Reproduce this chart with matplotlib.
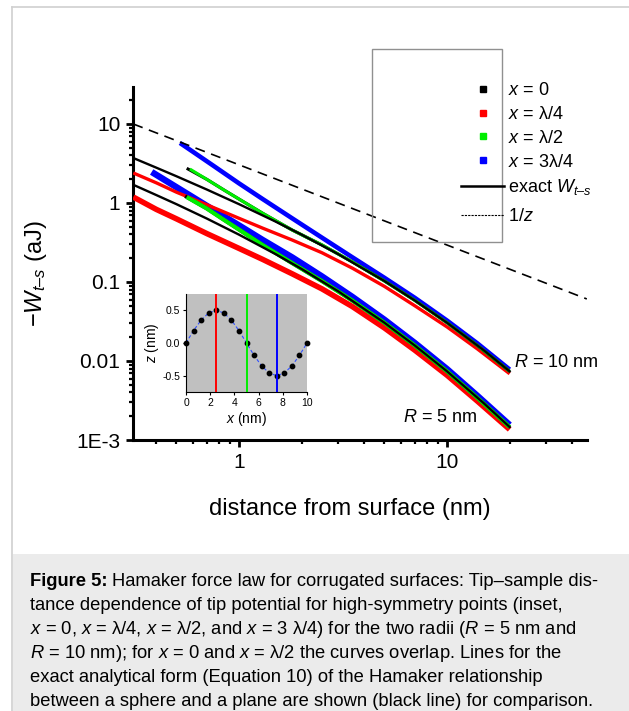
import matplotlib
matplotlib.use('Agg')
import matplotlib.pyplot as plt
from matplotlib.lines import Line2D
from matplotlib.patches import Rectangle
from matplotlib.ticker import LogLocator, NullFormatter

plt.rcParams['font.family'] = 'Liberation Sans'
plt.rcParams['mathtext.fontset'] = 'custom'
plt.rcParams['mathtext.rm'] = 'Liberation Sans'
plt.rcParams['mathtext.it'] = 'Liberation Sans:italic'
plt.rcParams['mathtext.bf'] = 'Liberation Sans:bold'

# --- data (z in nm, -W in aJ) ---
# exact sphere-plane Hamaker curves
z_exact = [0.31, 0.4, 0.5, 0.7, 1.0, 1.5, 2.0, 3.0, 5.0, 7.0, 10.0, 15.0, 20.0]
w_exact_r10 = [3.71, 2.80, 2.18, 1.48, 0.966, 0.581, 0.397, 0.225, 0.103, 0.0584, 0.0305, 0.0137, 0.0074]
w_exact_r5 = [1.70, 1.26, 0.966, 0.635, 0.397, 0.225, 0.146, 0.0761, 0.0305, 0.0157, 0.0074, 0.00293, 0.00146]

# 1/z guide line
z_inv = [0.31, 47.0]
w_inv = [10.0, 0.061]

# R = 10 nm
z_r10_x0 = [0.56, 0.7, 0.85, 1.0, 1.3, 1.8, 2.5, 3.5, 5, 7, 10, 14, 20]
w_r10_x0 = [2.75, 1.99, 1.45, 1.12, 0.74, 0.455, 0.295, 0.18, 0.103, 0.0585, 0.0305, 0.0157, 0.0074]
z_r10_q1 = [0.31, 0.4, 0.5, 0.7, 1.0, 1.3, 1.8, 2.5, 3.5, 5, 7, 10, 14, 20]
w_r10_q1 = [2.4, 1.8, 1.37, 0.95, 0.64, 0.48, 0.34, 0.235, 0.15, 0.088, 0.05, 0.027, 0.0142, 0.0069]
z_r10_q2 = [0.58, 0.7, 0.85, 1.0, 1.3, 1.8, 2.5, 3.5, 5, 7, 10, 14, 20]
w_r10_q2 = [2.69, 1.99, 1.45, 1.12, 0.74, 0.455, 0.295, 0.18, 0.103, 0.0585, 0.0305, 0.0157, 0.0074]
z_r10_q3 = [0.52, 0.6, 0.75, 1.0, 1.3, 1.8, 2.5, 3.5, 5, 7, 10, 14, 20]
w_r10_q3 = [5.75, 4.45, 2.98, 1.77, 1.12, 0.64, 0.365, 0.206, 0.113, 0.063, 0.0325, 0.0167, 0.0078]

# R = 5 nm
z_r5_x0 = [0.55, 0.7, 0.85, 1.0, 1.3, 1.8, 2.5, 3.5, 5, 7, 10, 14, 20]
w_r5_x0 = [1.22, 0.85, 0.607, 0.46, 0.293, 0.1735, 0.103, 0.0584, 0.0305, 0.0157, 0.0074, 0.00341, 0.00146]
z_r5_q1 = [0.31, 0.4, 0.5, 0.7, 1.0, 1.3, 1.8, 2.5, 3.5, 5, 7, 10, 14, 20]
w_r5_q1 = [1.19, 0.83, 0.63, 0.41, 0.266, 0.193, 0.127, 0.082, 0.049, 0.0262, 0.0137, 0.0066, 0.0031, 0.00136]
z_r5_q2 = [0.56, 0.7, 0.85, 1.0, 1.3, 1.8, 2.5, 3.5, 5, 7, 10, 14, 20]
w_r5_q2 = [1.19, 0.85, 0.607, 0.46, 0.293, 0.1735, 0.103, 0.0584, 0.0305, 0.0157, 0.0074, 0.00341, 0.00146]
z_r5_q3 = [0.38, 0.45, 0.55, 0.7, 1.0, 1.3, 1.8, 2.5, 3.5, 5, 7, 10, 14, 20]
w_r5_q3 = [2.47, 1.88, 1.36, 0.92, 0.52, 0.34, 0.205, 0.118, 0.065, 0.0333, 0.0169, 0.0079, 0.00362, 0.00155]

# inset: surface profile
inset_x = [0, 0.625, 1.25, 1.875, 2.5, 3.125, 3.75, 4.375, 5, 5.625, 6.25, 6.875, 7.5, 8.125, 8.75, 9.375, 10]
inset_z = [0, 0.19, 0.35, 0.46, 0.5, 0.46, 0.35, 0.19, 0, -0.19, -0.35, -0.46, -0.5, -0.46, -0.35, -0.19, 0]
inset_marks = [2.5, 5.0, 7.5]
inset_mark_colors = ['#ff0000', '#00ee00', '#0000ff']

ytick_vals = [1e-3, 1e-2, 1e-1, 1, 10]
ytick_labels = ['1E-3', '0.01', '0.1', '1', '10']

RED, GREEN, BLUE = '#ff0000', '#00ee00', '#0000ff'

fig = plt.figure(figsize=(6.29, 7.11), dpi=100)

# page frame and caption box
fig.add_artist(Line2D([12/629, 12/629], [0, 1 - 7/711], color='#d0d0d0', lw=1.2))
fig.add_artist(Line2D([12/629, 1], [1 - 7/711, 1 - 7/711], color='#d0d0d0', lw=1.2))
fig.add_artist(Rectangle((13/629, 0), 1 - 13/629, 1 - 554/711, transform=fig.transFigure,
                         facecolor='#ebebeb', edgecolor='none'))

ax = fig.add_axes([133/629, 1 - 440/711, 454/629, 353/711])
ax.set_xscale('log')
ax.set_yscale('log')

ax.plot(z_r10_q3, w_r10_q3, color=BLUE, lw=3.3, solid_capstyle='butt', zorder=2)
ax.plot(z_r5_q3, w_r5_q3, color=BLUE, lw=4.6, solid_capstyle='butt', zorder=2)
ax.plot(z_r10_q1, w_r10_q1, color=RED, lw=2.4, solid_capstyle='butt', zorder=3)
ax.plot(z_r5_q1, w_r5_q1, color=RED, lw=4.0, solid_capstyle='butt', zorder=3)
ax.plot(z_r10_x0, w_r10_x0, color='black', lw=2.2, solid_capstyle='butt', zorder=3.5)
ax.plot(z_r5_x0, w_r5_x0, color='black', lw=2.6, solid_capstyle='butt', zorder=3.5)
ax.plot(z_r10_q2, w_r10_q2, color=GREEN, lw=2.2, solid_capstyle='butt', zorder=4)
ax.plot(z_r5_q2, w_r5_q2, color=GREEN, lw=3.0, solid_capstyle='butt', zorder=4)
ax.plot(z_exact, w_exact_r10, color='black', lw=1.7, zorder=5)
ax.plot(z_exact, w_exact_r5, color='black', lw=1.7, zorder=5)
ax.plot(z_inv, w_inv, color='black', lw=1.2, ls=(0, (6, 4)), zorder=6)

ax.text(21.0, 0.0097, '$R$ = 10 nm', fontsize=13, va='center', ha='left')
ax.text(14.0, 0.00195, '$R$ = 5 nm', fontsize=13, va='center', ha='right')

ax.set_xlim(0.309, 47.1)
ax.set_ylim(1e-3, 29.4)
ax.set_yticks(ytick_vals)
ax.set_yticklabels(ytick_labels)
ax.set_xticks([1, 10])
ax.set_xticklabels(['1', '10'])
ax.xaxis.set_minor_locator(LogLocator(base=10, subs=range(2, 10), numticks=20))
ax.yaxis.set_minor_locator(LogLocator(base=10, subs=range(2, 10), numticks=20))
ax.xaxis.set_minor_formatter(NullFormatter())
ax.yaxis.set_minor_formatter(NullFormatter())
ax.tick_params(which='major', direction='out', length=5, width=2, labelsize=15, pad=4)
ax.tick_params(which='minor', direction='out', length=3, width=1.6)
for s in ['top', 'right']:
    ax.spines[s].set_visible(False)
for s in ['left', 'bottom']:
    ax.spines[s].set_linewidth(2.2)

ax.set_xlabel('distance from surface (nm)', fontsize=17)
ax.xaxis.set_label_coords(0.478, -0.165)
ax.set_ylabel('\u2212$W_{t\u2013s}$ (aJ)', fontsize=17)
ax.yaxis.set_label_coords(-0.185, 0.47)

# legend (frame drawn separately)
handles = [
    Line2D([], [], ls='none', marker='s', ms=4, color='black'),
    Line2D([], [], ls='none', marker='s', ms=4, color=RED),
    Line2D([], [], ls='none', marker='s', ms=4, color=GREEN),
    Line2D([], [], ls='none', marker='s', ms=4, color=BLUE),
    Line2D([], [], color='black', lw=1.8),
]
labels = ['$x$ = 0', '$x$ = \u03bb/4', '$x$ = \u03bb/2', '$x$ = 3\u03bb/4', 'exact $W_{t\u2013s}$']
fig.legend(handles, labels, loc='upper left', bbox_to_anchor=(461/629, 1 - 82/711),
           frameon=False, fontsize=13, handlelength=2.4, handletextpad=0.2,
           labelspacing=0.38, borderpad=0, borderaxespad=0)
fig.legend([Line2D([], [], color='black', lw=0.8, ls=(0, (2, 1)))], ['1/$z$'],
           loc='upper left', bbox_to_anchor=(461/629, 1 - 208/711),
           frameon=False, fontsize=13, handlelength=2.4, handletextpad=0.2,
           borderpad=0, borderaxespad=0)
fig.add_artist(Rectangle((372/629, 1 - 242/711), 130/629, 193/711, transform=fig.transFigure,
                         facecolor='none', edgecolor='#909090', lw=1))

# inset
ins = fig.add_axes([186/629, 1 - 392/711, 121/629, 98/711])
ins.set_facecolor('#c0c0c0')
ins.plot(inset_x, inset_z, color='#3050ff', lw=0.8, ls=(0, (3, 2)), zorder=2)
ins.scatter(inset_x, inset_z, s=10, color='black', zorder=3, clip_on=False)
for xm, cm in zip(inset_marks, inset_mark_colors):
    ins.axvline(xm, color=cm, lw=1.4, zorder=4)
ins.set_xlim(0, 10)
ins.set_ylim(-0.75, 0.75)
ins.set_xticks([0, 2, 4, 6, 8, 10])
ins.set_yticks([-0.5, 0.0, 0.5])
ins.set_yticklabels(['-0.5', '0.0', '0.5'])
ins.tick_params(direction='out', length=2.5, width=0.8, labelsize=7.5, pad=1.5)
for s in ['top', 'right']:
    ins.spines[s].set_visible(False)
ins.set_xlabel('$x$ (nm)', fontsize=10, labelpad=2)
ins.set_ylabel('$z$ (nm)', fontsize=10, labelpad=1)

# caption
cap_size = 13.2
cap_x = 30/629
cap_y0 = 581
cap_dy = 24
caption = [
    'Hamaker force law for corrugated surfaces: Tip\u2013sample dis-',
    'tance dependence of tip potential for high-symmetry points (inset,',
    '$x$ = 0, $x$ = \u03bb/4, $x$ = \u03bb/2, and $x$ = 3 \u03bb/4) for the two radii ($R$ = 5 nm and',
    '$R$ = 10 nm); for $x$ = 0 and $x$ = \u03bb/2 the curves overlap. Lines for the',
    'exact analytical form (Equation 10) of the Hamaker relationship',
    'between a sphere and a plane are shown (black line) for comparison.',
]
head = fig.text(cap_x, 1 - cap_y0/711, 'Figure 5:', fontsize=cap_size, fontweight='bold',
                va='center', ha='left')
bb = head.get_window_extent(renderer=fig.canvas.get_renderer())
head_end = bb.x1 / fig.bbox.width + 4/629
for i, line in enumerate(caption):
    x0 = head_end if i == 0 else cap_x
    fig.text(x0, 1 - (cap_y0 + cap_dy * i)/711, line, fontsize=cap_size, va='center', ha='left')

fig.savefig('out.png', dpi=100)
